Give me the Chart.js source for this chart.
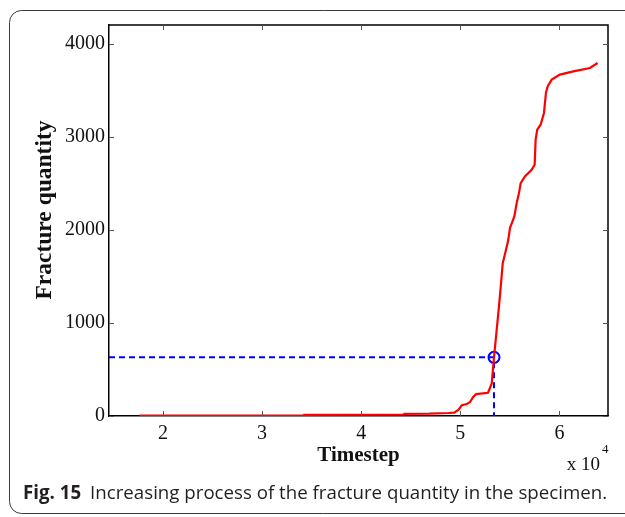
<!DOCTYPE html>
<html lang="en">
<head>
    <meta charset="UTF-8">
    <title>Fracture quantity</title>
    <script src="https://cdn.jsdelivr.net/npm/chart.js"></script>
    <style>
        body { margin: 0; background: #fff; overflow: hidden; }
        #wrap { position: relative; width: 625px; height: 517px; overflow: hidden; }
        #chart { position: absolute; left: 0; top: 0; }
        #caption { position: absolute; left: 23px; top: 479px; font-family: "Open Sans", sans-serif;
                   font-size: 18.7px; color: #231f20; white-space: nowrap; }
        #caption b { margin-right: 9px; }
    </style>
</head>
<body>
<div id="wrap">
    <canvas id="chart" width="625" height="517"></canvas>
    <div id="caption"><b>Fig. 15</b>Increasing process of the fracture quantity in the specimen.</div>
</div>
<script>
    // values
    var timesteps = [17640, 34200, 34250, 44300, 44350, 46900, 48800, 49400, 49500, 49800,
        50150, 50650, 50980, 51300, 51600, 52800, 53170, 53400, 53670, 53900,
        54110, 54280, 54610, 54840, 55010, 55450, 55690, 55920, 56090, 56520,
        57200, 57500, 57600, 57760, 58100, 58440, 58640, 58810, 59220, 60050,
        61400, 63080, 63850];
    var fractures = [3, 3, 12, 14, 22, 25, 32, 36, 45, 65,
        115, 128, 150, 205, 235, 250, 350, 630, 925, 1175,
        1427, 1642, 1785, 1892, 2018, 2143, 2287, 2394, 2502, 2573,
        2645, 2699, 2968, 3075, 3129, 3255, 3470, 3541, 3613, 3667,
        3702, 3738, 3792];
    var markX = 53400;
    var markY = 630;
    var xTicks = [20000, 30000, 40000, 50000, 60000];
    var yTicks = [0, 1000, 2000, 3000, 4000];
    var xMin = 14560, xMax = 64900;
    var yMin = 0, yMax = 4200;

    var curve = timesteps.map(function (t, i) { return { x: t, y: fractures[i] }; });
    var guide = [{ x: xMin, y: markY }, { x: markX, y: markY }, { x: markX, y: yMin }];

    // rounded figure frame, open on the right side
    var framePlugin = {
        id: 'frame',
        beforeDraw: function (chart) {
            var ctx = chart.ctx;
            ctx.save();
            ctx.strokeStyle = '#3a3a3a';
            ctx.lineWidth = 1;
            ctx.beginPath();
            ctx.moveTo(640, 10.5);
            ctx.lineTo(21.5, 10.5);
            ctx.arcTo(9.5, 10.5, 9.5, 22.5, 12);
            ctx.lineTo(9.5, 501.5);
            ctx.arcTo(9.5, 513.5, 21.5, 513.5, 12);
            ctx.lineTo(640, 513.5);
            ctx.stroke();
            ctx.restore();
        }
    };

    // box on top/right + inward ticks like matlab, y title and the x 10^4 note
    var boxPlugin = {
        id: 'box',
        afterDraw: function (chart) {
            var ctx = chart.ctx, a = chart.chartArea;
            var xs = chart.scales.x, ys = chart.scales.y;
            ctx.save();
            ctx.strokeStyle = '#000';
            ctx.lineWidth = 1.5;
            ctx.beginPath();
            ctx.moveTo(a.left, a.top); ctx.lineTo(a.right, a.top); ctx.lineTo(a.right, a.bottom);
            ctx.stroke();
            ctx.lineWidth = 1;
            ctx.strokeStyle = '#555';
            ctx.beginPath();
            xs.ticks.forEach(function (t) {
                var px = Math.round(xs.getPixelForValue(t.value)) + 0.5;
                ctx.moveTo(px, a.bottom); ctx.lineTo(px, a.bottom - 5);
                ctx.moveTo(px, a.top); ctx.lineTo(px, a.top + 5);
            });
            ys.ticks.forEach(function (t) {
                var py = Math.round(ys.getPixelForValue(t.value)) + 0.5;
                ctx.moveTo(a.left, py); ctx.lineTo(a.left + 5, py);
                ctx.moveTo(a.right, py); ctx.lineTo(a.right - 5, py);
            });
            ctx.stroke();

            ctx.fillStyle = '#111';
            ctx.font = 'bold 23.5px "Liberation Serif"';
            ctx.textAlign = 'center';
            ctx.textBaseline = 'middle';
            ctx.translate(45, 210);
            ctx.rotate(-Math.PI / 2);
            ctx.fillText('Fracture quantity', 0, 0);
            ctx.setTransform(1, 0, 0, 1, 0, 0);

            ctx.font = '19px "Liberation Serif"';
            ctx.textAlign = 'right';
            ctx.textBaseline = 'alphabetic';
            ctx.fillText('x 10', 600, 470);
            ctx.font = '13px "Liberation Serif"';
            ctx.textAlign = 'left';
            ctx.fillText('4', 602, 453);
            ctx.restore();
        }
    };

    var ctx = document.getElementById('chart').getContext('2d');
    var chart = new Chart(ctx, {
        type: 'line',
        data: {
            datasets: [{
                data: curve,
                borderColor: '#ff0000',
                borderWidth: 2.2,
                pointRadius: 0,
                tension: 0
            }, {
                data: guide,
                borderColor: '#0000ff',
                borderWidth: 2,
                borderDash: [6, 4],
                pointRadius: [0, 5.5, 0],
                pointBorderWidth: 2,
                pointBorderColor: '#0000ff',
                pointBackgroundColor: 'rgba(0,0,0,0)',
                tension: 0
            }]
        },
        options: {
            responsive: false,
            animation: false,
            events: [],
            layout: { padding: { left: 0, top: 25, right: 17, bottom: 0 } },
            plugins: { legend: { display: false }, tooltip: { enabled: false } },
            scales: {
                x: {
                    type: 'linear',
                    min: xMin,
                    max: xMax,
                    afterFit: function (s) { s.height = 101; },
                    afterBuildTicks: function (s) { s.ticks = xTicks.map(function (v) { return { value: v }; }); },
                    grid: { display: false, drawTicks: false },
                    border: { display: true, color: '#000', width: 1.5 },
                    ticks: {
                        padding: 6,
                        color: '#111',
                        font: { family: 'Liberation Serif', size: 20 },
                        callback: function (v) { return String(v / 10000); }
                    },
                    title: {
                        display: true,
                        text: 'Timestep',
                        color: '#111',
                        font: { family: 'Liberation Serif', size: 21, weight: 'bold' },
                        padding: { top: 0, bottom: 49 }
                    }
                },
                y: {
                    min: yMin,
                    max: yMax,
                    afterFit: function (s) { s.width = 109; },
                    afterBuildTicks: function (s) { s.ticks = yTicks.map(function (v) { return { value: v }; }); },
                    grid: { display: false, drawTicks: false },
                    border: { display: true, color: '#000', width: 1.5 },
                    ticks: {
                        padding: 4,
                        color: '#111',
                        font: { family: 'Liberation Serif', size: 20 },
                        callback: function (v) { return String(v); }
                    },
                    title: { display: false }
                }
            }
        },
        plugins: [framePlugin, boxPlugin]
    });
</script>
</body>
</html>
